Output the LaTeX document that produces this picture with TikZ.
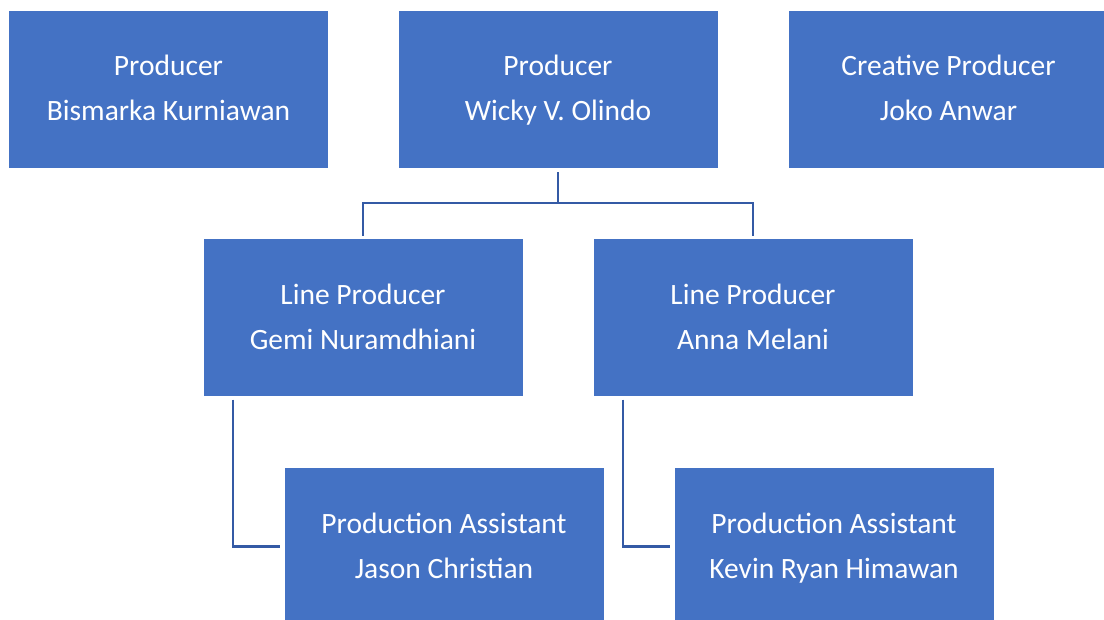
\documentclass[tikz,border=0pt]{standalone}
\usepackage{fontspec}
\setmainfont{Carlito}
\definecolor{boxfill}{RGB}{68,114,196}
\definecolor{linecol}{RGB}{52,90,165}
\newcommand{\twolines}[2]{\strut#1\strut\\\strut#2\strut}
\begin{document}
\begin{tikzpicture}[x=1pt,y=-1pt,
  box/.style={rectangle, fill=boxfill, draw=none, minimum width=319pt, minimum height=157pt, inner sep=0pt, text=white, align=center, font=\fontsize{29.5}{45}\selectfont},
  conn/.style={draw=linecol, line width=2.3pt}]
\useasboundingbox (0,0) rectangle (1104,620);
\begin{scope}
\clip (0,0) rectangle (1104,620);
\node[box] (b1) at (168.5,89.5) {\twolines{Producer}{Bismarka Kurniawan}};
\node[box] (b2) at (558,89.5) {\twolines{Producer}{Wicky V. Olindo}};
\node[box] (b3) at (948.5,89.5) {\twolines{Creative Producer}{Joko Anwar}};
\node[box] (b4) at (363,318) {\twolines{Line Producer}{Gemi Nuramdhiani}};
\node[box] (b5) at (753,318) {\twolines{Line Producer}{Anna Melani}};
\node[box] (b6) at (444,546.5) {\twolines{Production Assistant}{Jason Christian}};
\node[box] (b7) at (834,546.5) {\twolines{Production Assistant}{Kevin Ryan Himawan}};
\end{scope}
\coordinate (j) at (558,203);
\draw[conn, shorten <=4pt] (b2.south) -- (j);
\draw[conn, shorten >=3pt] (j) -| (b4.north);
\draw[conn, shorten >=3pt] (j) -| (b5.north);
\draw[conn, shorten <=3pt, shorten >=4pt] ([xshift=30pt]b4.south west) |- (b6.west);
\draw[conn, shorten <=3pt, shorten >=4pt] ([xshift=30pt]b5.south west) |- (b7.west);
\end{tikzpicture}
\end{document}
